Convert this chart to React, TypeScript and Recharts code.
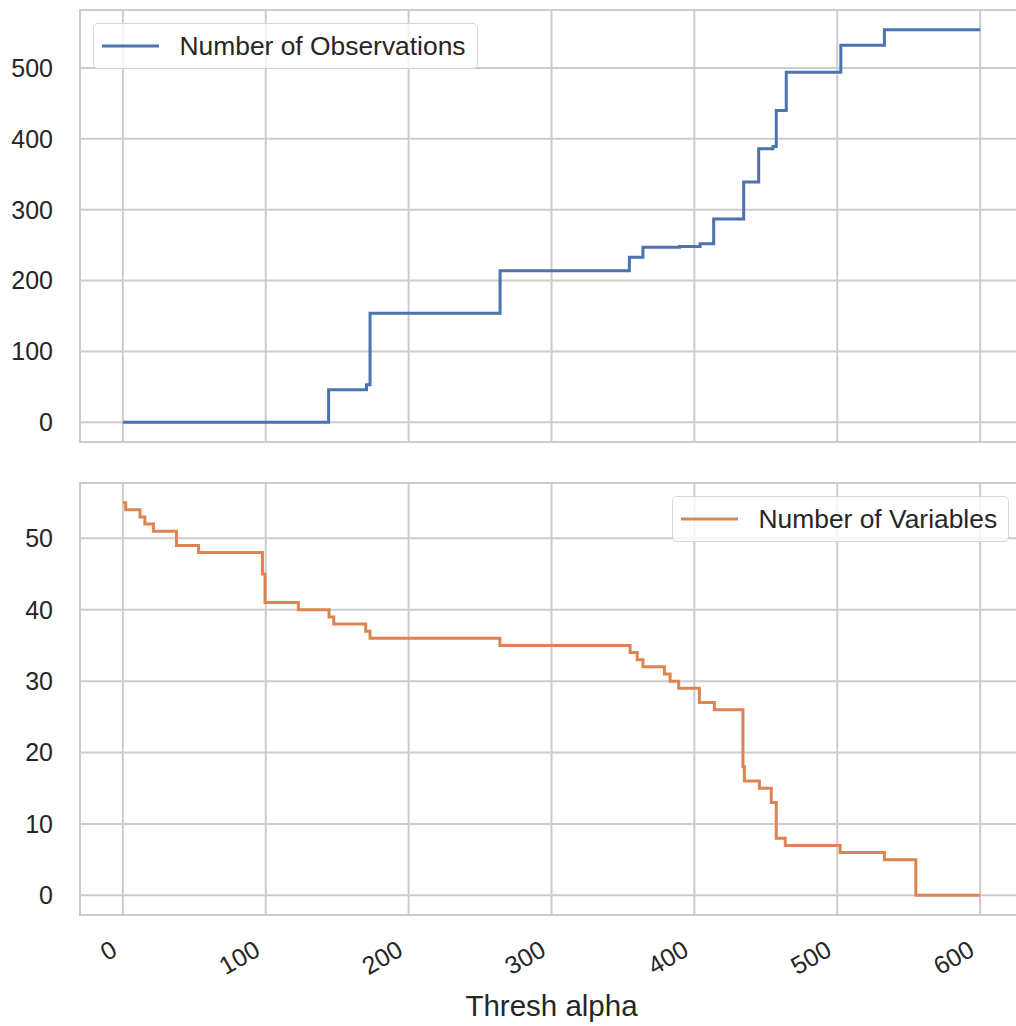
import {
  LineChart,
  Line,
  XAxis,
  YAxis,
  CartesianGrid,
  Legend,
  ReferenceArea,
} from "recharts";

// shared x axis
const threshTicks = [0, 100, 200, 300, 400, 500, 600];
const threshDomain: [number, number] = [-30, 630];

// top panel: number of observations (step points)
const obsTicks = [0, 100, 200, 300, 400, 500];
const obsDomain: [number, number] = [-27.7, 581.7];
const obsThresh = [0, 144, 170.5, 173, 264, 354.5, 364, 389.5, 404, 413.5, 434.5, 445, 455, 457.3, 464.3, 502.5, 533, 600];
const obsCount = [0, 46, 53, 154, 214, 233, 247, 248, 252, 287, 339, 386, 389, 440, 494, 532, 554, 554];

// bottom panel: number of variables (step points)
const varTicks = [0, 10, 20, 30, 40, 50];
const varDomain: [number, number] = [-2.75, 57.75];
const varThresh = [0, 2, 12, 15.4, 21.4, 37.5, 53, 97.7, 99.5, 122.8, 144.3, 147.6, 170, 173, 263.9, 355, 360, 364, 379, 383, 389, 403.5, 414, 434, 435, 445.5, 453.8, 457.3, 463.6, 502, 533, 555, 600];
const varCount = [55, 54, 53, 52, 51, 49, 48, 45, 41, 40, 39, 38, 37, 36, 35, 34, 33, 32, 31, 30, 29, 27, 26, 18, 16, 15, 13, 8, 7, 6, 5, 0, 0];

const obsData = obsThresh.map((t, i) => ({ thresh: t, value: obsCount[i] }));
const varData = varThresh.map((t, i) => ({ thresh: t, value: varCount[i] }));

const BLUE = "#4c72b0";
const ORANGE = "#dd8452";
const GRID = "#cccccc";
const TEXT = "#262626";
const FONT = "'Liberation Sans', Arial, sans-serif";

function LegendBox({ label, color, width }: { label: string; color: string; width: number }) {
  return (
    <div
      style={{
        boxSizing: "border-box",
        width,
        height: 46,
        border: "1.5px solid #d6d6d6",
        borderRadius: 5,
        background: "rgba(255,255,255,0.8)",
        display: "flex",
        alignItems: "center",
        paddingLeft: 7.5,
        fontFamily: FONT,
      }}
    >
      <svg width={57} height={6} style={{ display: "block" }}>
        <line x1={0} y1={3} x2={57} y2={3} stroke={color} strokeWidth={3} />
      </svg>
      <span style={{ marginLeft: 21, fontSize: 26.4, color: TEXT, whiteSpace: "nowrap" }}>{label}</span>
    </div>
  );
}

const tickStyle = { fontSize: 25, fill: TEXT, fontFamily: FONT };

// rotated x tick, right end tucked just left of the gridline like matplotlib's ha="right"
function XTick(props: any) {
  const { x, y, payload } = props;
  return (
    <g transform={`translate(${x - 13},${y}) rotate(-30)`}>
      <text x={0} y={0} dy={18} textAnchor="end" fontSize={25} fill={TEXT} fontFamily={FONT}>
        {payload.value}
      </text>
    </g>
  );
}

export default function App() {
  return (
    <div
      style={{
        position: "absolute",
        left: 0,
        top: 0,
        width: 1016,
        height: 1026,
        overflow: "hidden",
        background: "#ffffff",
        fontFamily: FONT,
      }}
    >
      <div style={{ position: "absolute", left: 0, top: 0 }}>
        <LineChart width={1023} height={452} data={obsData} margin={{ top: 10, right: 0, bottom: 10, left: 0 }}>
          <CartesianGrid stroke={GRID} strokeWidth={2} />
          <XAxis
            type="number"
            dataKey="thresh"
            domain={threshDomain}
            ticks={threshTicks}
            allowDataOverflow
            height={0}
            tickFormatter={() => ""}
            tickLine={false}
            axisLine={false}
          />
          <YAxis
            type="number"
            domain={obsDomain}
            ticks={obsTicks}
            allowDataOverflow
            width={80}
            tickSize={0}
            tickMargin={27}
            tickLine={false}
            axisLine={false}
            tick={tickStyle}
          />
          <ReferenceArea
            x1={threshDomain[0]}
            x2={threshDomain[1]}
            y1={obsDomain[0]}
            y2={obsDomain[1]}
            fill="none"
            stroke={GRID}
            strokeWidth={2}
          />
          <Line
            type="stepAfter"
            dataKey="value"
            stroke={BLUE}
            strokeWidth={3}
            dot={false}
            isAnimationActive={false}
          />
          <Legend
            layout="vertical"
            align="center"
            verticalAlign="middle"
            wrapperStyle={{ left: 93, top: 23, width: 385 }}
            content={() => <LegendBox label="Number of Observations" color={BLUE} width={385} />}
          />
        </LineChart>
      </div>

      <div style={{ position: "absolute", left: 0, top: 473 }}>
        <LineChart width={1023} height={553} data={varData} margin={{ top: 10, right: 0, bottom: 0, left: 0 }}>
          <CartesianGrid stroke={GRID} strokeWidth={2} />
          <XAxis
            type="number"
            dataKey="thresh"
            domain={threshDomain}
            ticks={threshTicks}
            allowDataOverflow
            height={111}
            tickSize={0}
            tickMargin={24}
            tickLine={false}
            axisLine={false}
            tick={<XTick />}
            label={{
              value: "Thresh alpha",
              position: "insideBottom",
              offset: 10,
              fontSize: 29.5,
              fill: TEXT,
              fontFamily: FONT,
            }}
          />
          <YAxis
            type="number"
            domain={varDomain}
            ticks={varTicks}
            allowDataOverflow
            width={80}
            tickSize={0}
            tickMargin={27}
            tickLine={false}
            axisLine={false}
            tick={tickStyle}
          />
          <ReferenceArea
            x1={threshDomain[0]}
            x2={threshDomain[1]}
            y1={varDomain[0]}
            y2={varDomain[1]}
            fill="none"
            stroke={GRID}
            strokeWidth={2}
          />
          <Line
            type="stepAfter"
            dataKey="value"
            stroke={ORANGE}
            strokeWidth={3}
            dot={false}
            isAnimationActive={false}
          />
          <Legend
            layout="vertical"
            align="center"
            verticalAlign="middle"
            wrapperStyle={{ left: 672, top: 23, width: 337 }}
            content={() => <LegendBox label="Number of Variables" color={ORANGE} width={337} />}
          />
        </LineChart>
      </div>
    </div>
  );
}
